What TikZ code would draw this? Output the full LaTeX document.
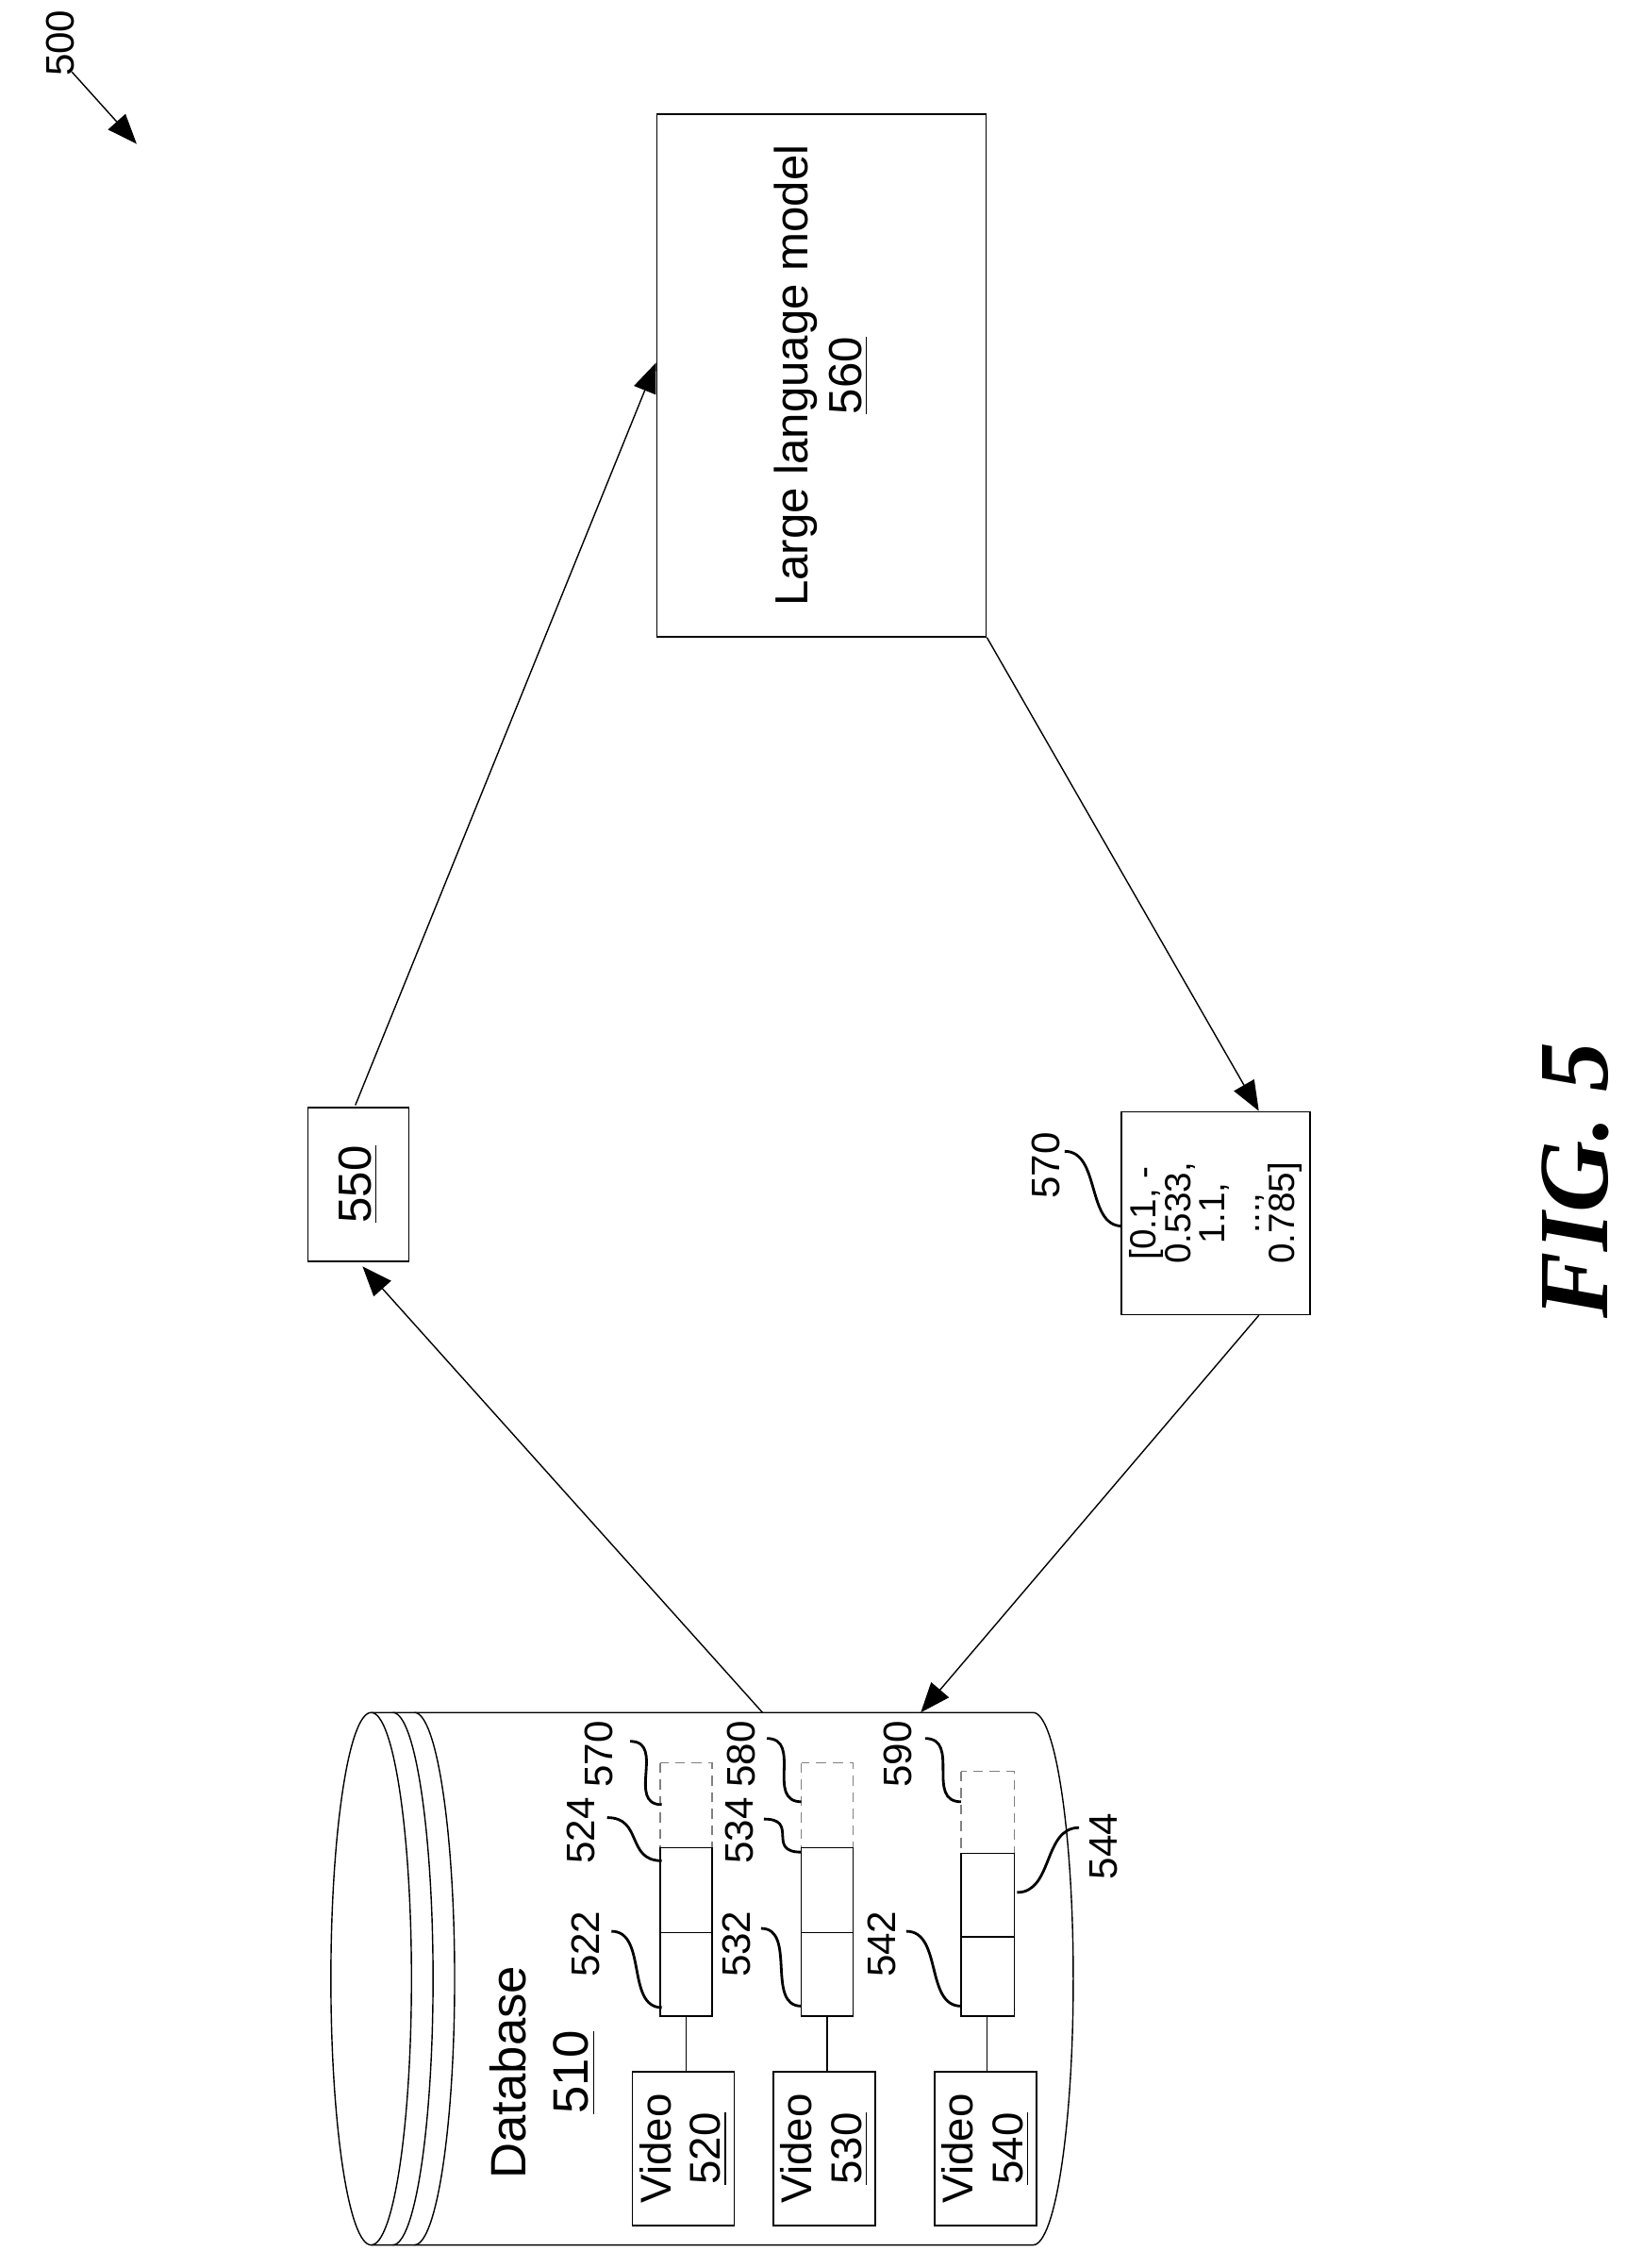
\documentclass[tikz,border=0pt]{standalone}
\usepackage{fontspec}
\setmainfont{Liberation Sans}
\usetikzlibrary{arrows.meta}
\tikzset{
  box/.style={draw, thin, rotate=90, inner sep=0pt, align=center, font=\fontsize{14}{16}\selectfont},
  num/.style={rotate=90, inner sep=0pt, font=\fontsize{12}{14}\selectfont},
  flow/.style={-{Triangle[length=9pt,width=7pt]}, thin},
  lead/.style={thick},
  slot/.style={draw, densely dashed, gray},
}
\begin{document}
\begin{tikzpicture}[x=0.015257cm, y=-0.015257cm]
      \useasboundingbox (0,0) rectangle (1130,1576);
      %
      \node[num] (n500) at (42,30) {500};
      \coordinate (s500) at (50,50);
      \coordinate (a500) at (95,100);
      \draw[flow] (s500) -- (a500);
      %
      \node[box, minimum width=5.54cm, minimum height=3.49cm] (llm) at (571,261)
        {Large language model\\\underline{560}};
      \node[box, minimum width=1.63cm, minimum height=1.07cm] (b550) at (249,823)
        {\underline{550}};
      \node[box, minimum width=2.15cm, minimum height=2.0cm, font=\fontsize{11}{10.5}\selectfont] (b570) at (845,843)
        {[0.1, -\\0.533,\\1.1,\\...,\\0.785]};
      \node[num] (l570) at (727,810) {570};
      \coordinate (e570) at (780,852);
      \draw[lead] (740,800) .. controls +(25,0) and +(-25,0) .. (e570);
      %
      % database
      \draw (258,1190) -- (718,1190) arc[start angle=-90, end angle=90, x radius=28, y radius=185]
            -- (258,1560);
      \draw (258,1375) ellipse[x radius=28, y radius=185];
      \draw (273,1190) arc[start angle=-90, end angle=90, x radius=28, y radius=185];
      \draw (288,1190) arc[start angle=-90, end angle=90, x radius=28, y radius=185];
      \node[num, font=\fontsize{15}{19}\selectfont, align=center] (db) at (377,1440) {Database\\\underline{510}};
      \coordinate (dbout) at (530,1190);
      \coordinate (dbin) at (640,1190);
      \coordinate (in550) at (252,880);
      \coordinate (out550) at (247,768);
      \coordinate (inllm) at (456,252);
      \coordinate (outllm) at (686,443);
      \coordinate (in570) at (875,772);
      \coordinate (out570) at (875,914);
      %
      % flows
      \draw[flow] (dbout) -- (in550);
      \draw[flow] (out550) -- (inllm);
      \draw[flow] (outllm) -- (in570);
      \draw[flow] (out570) -- (dbin);
      %
      % feature rows
      \foreach \n/\x in {520/459, 530/557}{
        \draw[slot] (\x,1225) rectangle (\x+36,1284);
        \draw (\x,1284) rectangle (\x+36,1401);
        \draw (\x,1343) -- (\x+36,1343);
        \node[box, font=\fontsize{13}{15}\selectfont, minimum width=1.63cm, minimum height=1.08cm] (v\n) at (\x+16,1493) {Video\\\underline{\n}};
        \draw (\x+18,1401) -- (\x+18,1440);
      }
      \draw[slot] (668,1231) rectangle (705,1288);
      \draw (668,1288) rectangle (705,1401);
      \draw (668,1346) -- (705,1346);
      \node[box, font=\fontsize{13}{15}\selectfont, minimum width=1.63cm, minimum height=1.08cm] (v540) at (685,1493) {Video\\\underline{540}};
      \draw (686,1401) -- (686,1440);
      %
      % labels
      \foreach \t/\lx/\ly/\sx/\sy/\ex/\ey in {
          522/407/1351/425/1342/460/1395, 524/404/1272/422/1263/460/1293,
          570/416/1219/438/1210/460/1254, 532/512/1351/529/1340/557/1394,
          534/514/1272/531/1264/557/1287, 580/515/1219/533/1208/557/1252,
          542/613/1351/630/1342/668/1394, 590/624/1219/643/1208/668/1252}{
        \node[num] (t\t) at (\lx,\ly) {\t};
        \draw[lead] (\sx,\sy) .. controls +(25,0) and +(-25,0) .. (\ex,\ey);
      }
      \node[num] (t544) at (767,1283) {544};
      \draw[lead] (707,1315) .. controls +(25,0) and +(-25,0) .. (750,1270);
      %
      \node[rotate=90, font=\bfseries\itshape\fontsize{30}{30}\selectfont] (fig) at (1095,820)
        {\fontspec{Liberation Serif}FIG. 5};
\end{tikzpicture}
\end{document}
